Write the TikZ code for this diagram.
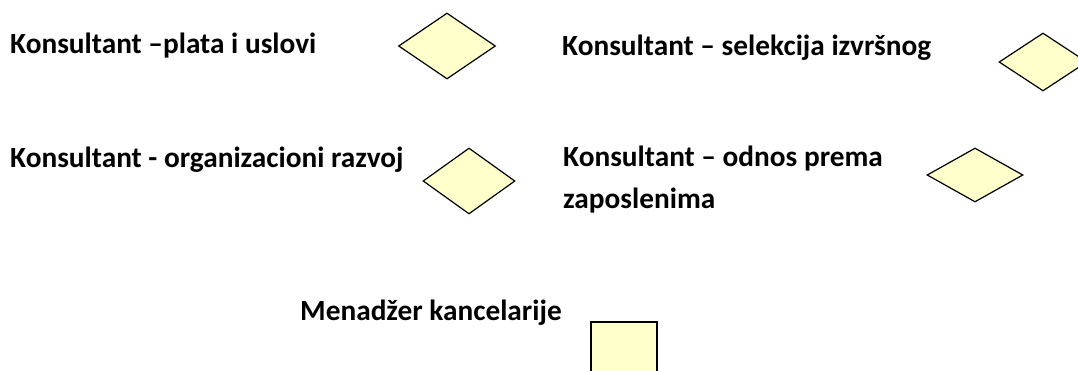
\documentclass[tikz,border=0pt]{standalone}
\usepackage{fontspec}
\setmainfont{Carlito}
\usetikzlibrary{shapes.geometric}
\definecolor{paleyellow}{HTML}{FFFFCC}

\begin{document}
\begin{tikzpicture}[x=1pt,y=-1pt,
  roletext/.style={anchor=base west, inner sep=0pt, align=left, font=\fontsize{29.3}{42}\selectfont\bfseries},
  rhomb/.style={diamond, draw=black, fill=paleyellow, line width=1.2pt, inner sep=0pt},
  officebox/.style={rectangle, draw=black, fill=paleyellow, line width=1.6pt, inner sep=0pt, minimum width=66pt, minimum height=66pt}]
% page frame (reference is 1078 x 370)
\useasboundingbox (0,0) rectangle (1078,370);
\clip (0,0) rectangle (1078,370);

% first row
\node[roletext] (plata) at (10,53) {Konsultant –plata i uslovi};
\node[rhomb, minimum width=97pt, minimum height=66pt] (plataD) at (447,46) {};
\node[roletext] (selekcija) at (562,55) {Konsultant – selekcija izvršnog};
\node[rhomb, minimum width=88pt, minimum height=58pt] (selekcijaD) at (1043,62) {};

% second row (base of a two-line node is its last line)
\node[roletext] (razvoj) at (10,167) {Konsultant - organizacioni razvoj};
\node[rhomb, minimum width=92pt, minimum height=66pt] (razvojD) at (469,181) {};
\node[roletext] (odnos) at (563,208) {Konsultant – odnos prema\\zaposlenima};
\node[rhomb, minimum width=96pt, minimum height=54pt] (odnosD) at (975,175) {};

% office manager
\node[roletext] (menadzer) at (300,320) {Menadžer kancelarije};
\node[officebox, anchor=north west] (menadzerB) at (590,321) {};
\end{tikzpicture}
\end{document}
